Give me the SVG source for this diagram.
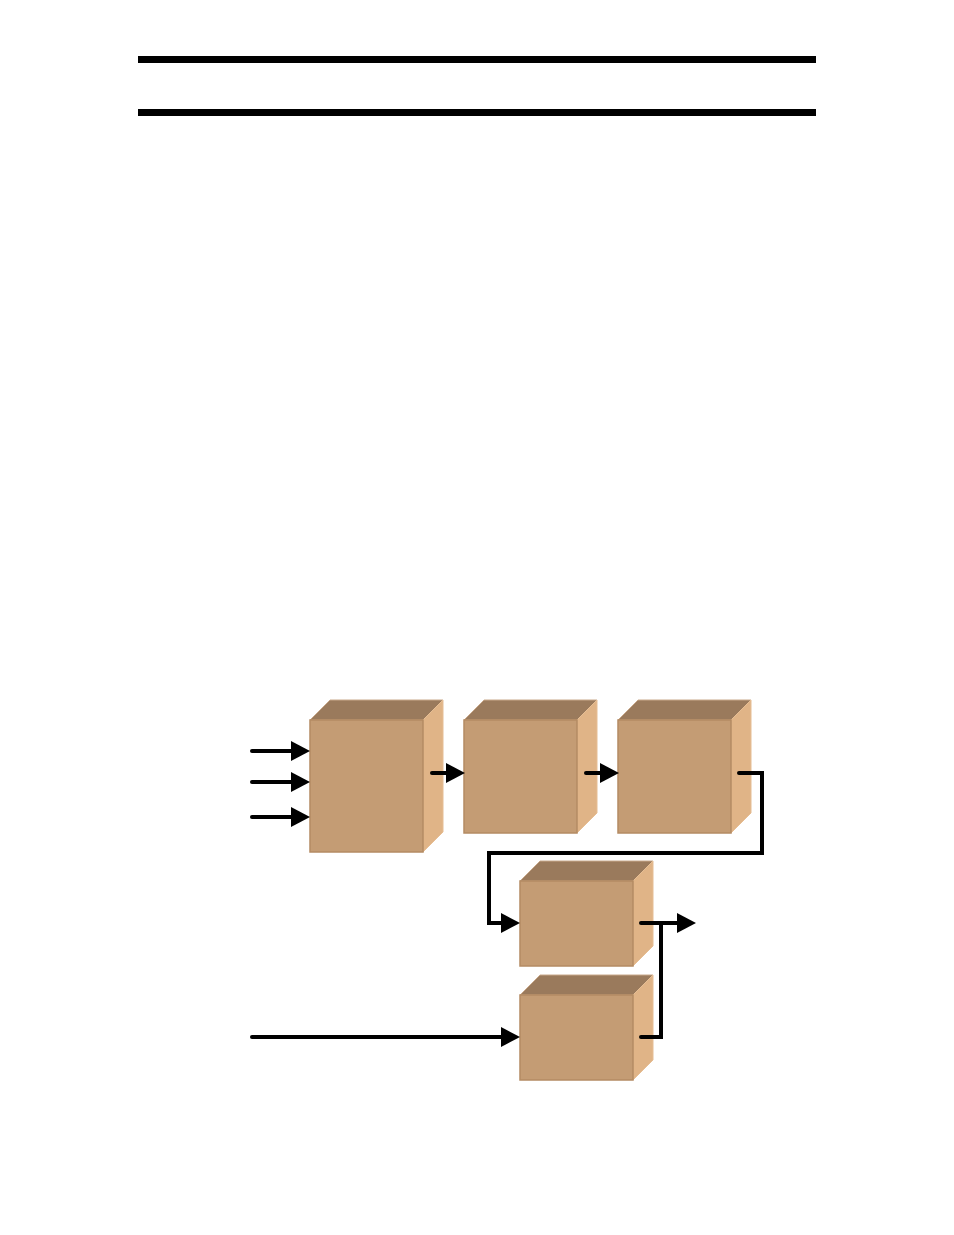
<svg xmlns="http://www.w3.org/2000/svg" width="954" height="1235" viewBox="0 0 954 1235">
<style>
.front{fill:#C49C74;stroke:#B48B63;stroke-width:1.5}
.top{fill:#9A7A5C;stroke:#C8A88A;stroke-width:1}
.side{fill:#E0B487;stroke:#E6BE94;stroke-width:1}
.wire{fill:none;stroke:#000;stroke-width:4;stroke-linecap:round;stroke-linejoin:miter}
.head{fill:#000}
.rule{fill:#000}
</style>
<defs>
<path id="ah" d="M-19,-10 L0,0 L-19,10 Z"/>
</defs>
<rect class="rule" x="138" y="56" width="678" height="7"/>
<rect class="rule" x="138" y="109" width="678" height="7"/>

<g id="box1">
<polygon class="top" points="310,720 330,700 443,700 423,720"/>
<polygon class="side" points="423,720 443,700 443,832 423,852"/>
<rect class="front" x="310" y="720" width="113" height="132"/>
</g>
<g id="box2">
<polygon class="top" points="464,720 484,700 597,700 577,720"/>
<polygon class="side" points="577,720 597,700 597,813 577,833"/>
<rect class="front" x="464" y="720" width="113" height="113"/>
</g>
<g id="box3">
<polygon class="top" points="618,720 638,700 751,700 731,720"/>
<polygon class="side" points="731,720 751,700 751,813 731,833"/>
<rect class="front" x="618" y="720" width="113" height="113"/>
</g>
<g id="box4">
<polygon class="top" points="520,881 540,861 653,861 633,881"/>
<polygon class="side" points="633,881 653,861 653,946 633,966"/>
<rect class="front" x="520" y="881" width="113" height="85"/>
</g>
<g id="box5">
<polygon class="top" points="520,995 540,975 653,975 633,995"/>
<polygon class="side" points="633,995 653,975 653,1060 633,1080"/>
<rect class="front" x="520" y="995" width="113" height="85"/>
</g>

<g id="connectors">
<path class="wire" d="M252,751 L295,751"/>
<use href="#ah" class="head" x="310" y="751"/>
<path class="wire" d="M252,782 L295,782"/>
<use href="#ah" class="head" x="310" y="782"/>
<path class="wire" d="M252,817 L295,817"/>
<use href="#ah" class="head" x="310" y="817"/>
<path class="wire" d="M432,773 L450,773"/>
<use href="#ah" class="head" x="465" y="773"/>
<path class="wire" d="M586,773 L604,773"/>
<use href="#ah" class="head" x="619" y="773"/>
<path class="wire" d="M739,773 L762,773 L762,853 L489,853 L489,923 L506,923"/>
<use href="#ah" class="head" x="520" y="923"/>
<path class="wire" d="M641,923 L681,923"/>
<use href="#ah" class="head" x="696" y="923"/>
<path class="wire" d="M641,1037 L661,1037 L661,923"/>
<path class="wire" d="M252,1037 L506,1037"/>
<use href="#ah" class="head" x="520" y="1037"/>
</g>
</svg>
